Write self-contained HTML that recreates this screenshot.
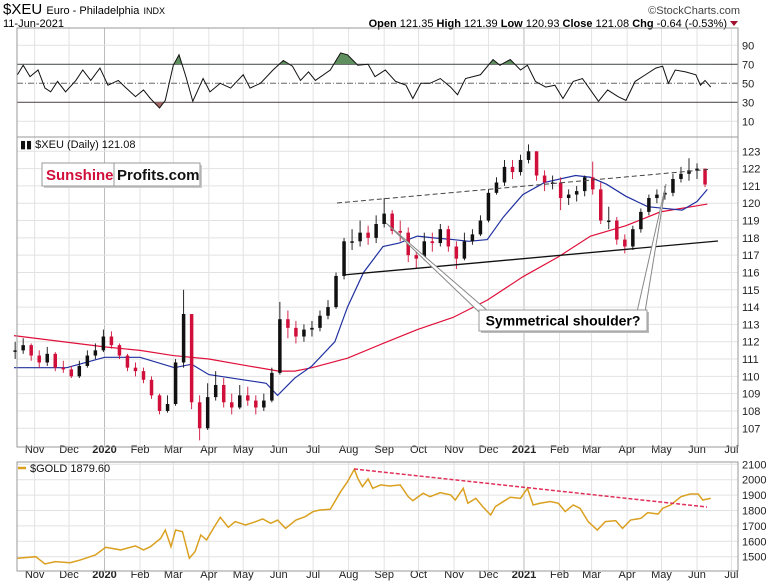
<!DOCTYPE html>
<html><head><meta charset="utf-8"><style>
html,body{margin:0;padding:0;background:#fff;}
svg{display:block;font-family:"Liberation Sans",sans-serif;}
</style></head><body>
<svg id="chart" width="780" height="586" viewBox="0 0 780 586" xmlns="http://www.w3.org/2000/svg">
<g>
<text x="3" y="14" font-size="15">$XEU <tspan font-size="11">Euro - Philadelphia</tspan> <tspan font-size="9">INDX</tspan></text>
<text x="3" y="27" font-size="11">11-Jun-2021</text>
<text x="740" y="14" font-size="11" text-anchor="end" fill="#444">©StockCharts.com</text>
<text x="727" y="27" font-size="11" text-anchor="end"><tspan font-weight="bold">Open</tspan> 121.35 <tspan font-weight="bold">High</tspan> 121.39 <tspan font-weight="bold">Low</tspan> 120.93 <tspan font-weight="bold">Close</tspan> 121.08 <tspan font-weight="bold">Chg</tspan> -0.64 (-0.53%)</text>
<polygon points="730,21 738,21 734,26" fill="#a01030"/>
</g>
<g id="grid"></g>
<g id="rsi"></g>
<g id="main"></g>
<g id="gold"></g>
<g id="axes"></g>
<g id="overlay"></g>
</svg>
<script>
// ---- data ----
const monthDays=[18,48,79,110,139,170,200,231,261,292,323,353,384,414,445,476,504,535,565,596,626];
const monthLabels=["Nov","Dec","2020","Feb","Mar","Apr","May","Jun","Jul","Aug","Sep","Oct","Nov","Dec","2021","Feb","Mar","Apr","May","Jun","Jul"];
const xeuCloses=[111.5,111.8,111.2,110.8,111.3,110.5,110.4,110.0,110.6,111.2,111.5,112.3,111.8,111.2,110.5,110.3,109.8,108.9,108.0,108.4,110.8,113.6,108.5,107.0,108.8,109.5,108.5,108.2,108.9,108.6,108.2,108.6,110.2,113.3,112.8,112.3,112.7,112.8,113.5,114.0,115.8,117.8,117.8,118.3,118.0,118.8,119.4,118.4,118.3,117.0,116.8,117.8,117.7,118.5,117.5,116.8,117.8,118.2,119.0,120.6,121.2,122.1,121.8,122.5,123.0,121.6,121.2,121.2,120.3,120.5,120.7,121.5,120.8,119.0,119.0,117.9,117.5,118.5,119.5,120.3,120.5,120.6,121.4,121.7,121.9,122.0,121.08];
const xeuHighs=[112.0,112.2,111.9,111.5,111.7,111.4,110.9,110.6,110.9,111.5,111.9,112.7,112.6,111.9,111.3,110.8,110.5,110.0,109.0,108.9,111.0,115.0,113.5,108.9,109.6,110.3,109.9,109.0,109.5,109.4,108.9,109.0,110.5,114.3,113.8,113.2,113.0,113.2,113.8,114.4,116.0,118.0,118.5,119.0,118.7,119.3,120.3,119.6,119.0,118.6,117.3,118.3,118.3,118.8,118.7,117.8,118.3,118.5,119.3,120.8,121.5,122.5,122.5,122.8,123.4,123.0,121.9,121.6,121.5,120.8,121.0,121.6,122.4,121.2,119.8,119.2,118.2,118.7,119.7,120.5,120.8,121.0,121.7,122.1,122.6,122.3,121.5];
const xeuLows=[111.0,111.3,110.9,110.5,110.6,110.3,110.2,109.9,109.9,110.5,111.0,111.4,111.6,111.0,110.3,110.0,109.6,108.7,107.8,107.9,108.3,110.5,108.1,106.3,106.9,108.6,108.2,107.8,108.1,108.3,107.8,108.0,108.5,110.1,112.2,111.9,112.0,112.3,112.6,113.3,113.9,115.6,117.3,117.5,117.6,117.7,118.6,118.2,117.8,116.6,116.2,116.7,117.2,117.5,117.2,116.2,116.7,117.6,118.1,118.9,120.5,121.0,121.4,121.6,122.3,121.3,120.7,120.8,119.6,119.9,120.1,120.4,120.5,118.8,118.5,117.6,117.1,117.3,118.3,119.3,120.0,120.2,120.4,121.2,121.3,121.4,120.93];
const ma50Days=[0,46,79,110,140,155,170,200,220,230,245,260,280,291,305,322,336,352,366,383,397,413,427,444,463,490,503,517,534,553,568,583,596,605];
const ma50Vals=[110.5,110.5,111.1,111.1,110.5,110.7,110.1,109.8,109.6,108.9,109.9,110.6,112.0,114.0,116.0,117.5,117.7,118.1,118.0,117.9,117.8,117.9,119.2,120.5,121.2,121.6,121.5,121.1,120.4,119.8,119.7,119.6,120.1,120.8];
const ma200Days=[0,79,110,139,170,200,231,245,260,291,322,352,383,413,444,475,503,534,564,605];
const ma200Vals=[112.35,111.7,111.5,111.2,111.0,110.65,110.3,110.3,110.5,111.05,111.9,112.7,113.4,114.4,115.75,116.9,118.1,118.7,119.5,119.95];
const rsiDays=[3,8,14,21,27,32,38,45,54,60,67,75,82,91,97,106,113,119,127,132,139,144,150,156,165,171,180,189,200,206,215,226,235,243,250,257,263,276,285,291,300,309,315,324,333,342,348,355,363,372,381,387,394,407,418,424,433,442,448,455,464,472,479,488,496,503,510,518,527,534,542,551,560,566,571,577,586,595,599,603,608];
const rsiVals=[59,69,57,64,45,41,52,41,53,64,53,66,48,53,46,36,43,34,24,32,69,80,57,31,55,41,50,45,59,45,50,64,74,68,53,62,53,64,82,80,69,70,57,64,52,48,34,50,50,55,46,38,55,59,75,69,75,64,69,52,46,48,34,52,55,43,31,43,36,32,52,59,66,68,50,64,62,59,48,53,46];
const goldDays=[3,19,27,36,49,58,71,80,93,106,113,119,128,132,137,141,147,153,158,163,168,174,180,187,193,202,211,217,224,230,237,246,254,261,267,276,285,291,297,300,304,309,313,320,328,337,344,348,357,363,372,381,385,392,396,403,409,416,420,427,433,442,448,453,459,468,475,481,488,494,501,509,516,525,531,538,547,553,562,566,573,582,590,597,601,608];
const goldVals=[1490,1500,1453,1468,1461,1479,1511,1561,1544,1570,1544,1565,1619,1673,1565,1673,1663,1490,1533,1641,1609,1684,1756,1691,1728,1706,1728,1745,1717,1738,1684,1738,1760,1793,1803,1808,1922,1987,2068,2009,1955,2005,1944,1966,1959,1966,1890,1864,1912,1890,1916,1901,1868,1944,1847,1879,1825,1771,1825,1858,1886,1879,1944,1836,1847,1858,1847,1793,1836,1814,1728,1673,1728,1734,1684,1738,1749,1786,1777,1814,1836,1890,1907,1907,1868,1879];
const rsiTicks=[90,70,50,30,10];
const xeuTicks=[107,108,109,110,111,112,113,114,115,116,117,118,119,120,121,122,123];
const goldTicks=[2100,2000,1900,1800,1700,1600,1500];

// ---- scales ----
const X=d=>14+d*1.146;
const YR=v=>64.3+(70-v)*0.95;
const YM=v=>151.3+(123-v)*17.31;
const YG=v=>464.3+(2100-v)*0.154;
const NS="http://www.w3.org/2000/svg";
function mk(tag,attrs,parent){const e=document.createElementNS(NS,tag);for(const k in attrs)e.setAttribute(k,attrs[k]);parent.appendChild(e);return e;}
const grid=document.getElementById('grid'),rsiG=document.getElementById('rsi'),mainG=document.getElementById('main'),goldG=document.getElementById('gold'),axes=document.getElementById('axes'),ov=document.getElementById('overlay');
const L=17,R=738;
const panels=[[28,137],[137,447],[462,571]];

monthDays.forEach((d,i)=>{
  const yr=monthLabels[i].length===4;
  panels.forEach(p=>{
    const ln=mk('line',{x1:X(d),x2:X(d),y1:p[0],y2:p[1],stroke:yr?'#bbb':'#e2e2e2','stroke-width':1},grid);
    
    
  });
  [453,578].forEach(y=>{
    const t=mk('text',{x:X(d),y:y,'font-size':11,'text-anchor':'middle','font-weight':yr?'bold':'normal',fill:'#222'},axes);
    t.textContent=monthLabels[i];
    
    
  });
});
xeuTicks.forEach(v=>{
  const ln=mk('line',{x1:L,x2:R,y1:YM(v),y2:YM(v),stroke:'#e2e2e2'},grid);
  
  
  const t=mk('text',{x:742,y:YM(v)+4,'font-size':11,fill:'#222'},axes);
  t.textContent=v;
  
  
});
goldTicks.forEach(v=>{
  const ln=mk('line',{x1:L,x2:R,y1:YG(v),y2:YG(v),stroke:'#e2e2e2'},grid);
  
  
  const t=mk('text',{x:742,y:YG(v)+4,'font-size':11,fill:'#222'},axes);
  t.textContent=v;
  
  
});
rsiTicks.forEach(v=>{
  const dark=(v===70||v===30), mid=v===50;
  const ln=mk('line',{x1:L,x2:R,y1:YR(v),y2:YR(v),stroke:dark?'#555':(mid?'#666':'#e2e2e2'),'stroke-width':dark?1.2:1},grid);
  if(mid)ln.setAttribute('stroke-dasharray','6,2,1,2');
  
  
  const t=mk('text',{x:742,y:YR(v)+4,'font-size':11,fill:'#222'},axes);
  t.textContent=v;
  
  
});
panels.forEach(p=>{
  const r=mk('rect',{x:L,y:p[0],width:R-L,height:p[1]-p[0],fill:'none',stroke:'#999'},axes);
  
  
});

// RSI
const rsiPts=rsiDays.map((d,i)=>X(d)+','+YR(rsiVals[i])).join(' ');
const defs=mk('defs',{},rsiG);
const c1=mk('clipPath',{id:'above70'},defs);mk('rect',{x:0,y:0,width:780,height:YR(70)},c1);
const c2=mk('clipPath',{id:'below30'},defs);mk('rect',{x:0,y:YR(30),width:780,height:40},c2);
const fa=mk('polygon',{points:X(rsiDays[0])+','+YR(70)+' '+rsiPts+' '+X(rsiDays[rsiDays.length-1])+','+YR(70),fill:'#5f8f5f','clip-path':'url(#above70)'},rsiG);


const fb=mk('polygon',{points:X(rsiDays[0])+','+YR(30)+' '+rsiPts+' '+X(rsiDays[rsiDays.length-1])+','+YR(30),fill:'#a86a6a','clip-path':'url(#below30)'},rsiG);


const rl=mk('polyline',{points:rsiPts,fill:'none',stroke:'#111','stroke-width':1},rsiG);



// MAs
const m200=mk('polyline',{points:ma200Days.map((d,i)=>X(d)+','+YM(ma200Vals[i])).join(' '),fill:'none',stroke:'#e0103a','stroke-width':1.2},mainG);


const m50=mk('polyline',{points:ma50Days.map((d,i)=>X(d)+','+YM(ma50Vals[i])).join(' '),fill:'none',stroke:'#2030a0','stroke-width':1.2},mainG);


// bars
xeuCloses.forEach((c,i)=>{
  const d=i*7+1, o=i?xeuCloses[i-1]:c, up=c>=o;
  const col=up?'#111':'#d0103a';
  const x=X(d);
  const w=mk('line',{x1:x,x2:x,y1:YM(xeuHighs[i]),y2:YM(xeuLows[i]),stroke:col,'stroke-width':0.9},mainG);
  
  
  const top=YM(Math.max(o,c)),bot=YM(Math.min(o,c));
  const b=mk('rect',{x:x-1.75,y:top,width:3.5,height:Math.max(bot-top,1.5),fill:col},mainG);
  
  
});

// gold
const gl=mk('polyline',{points:goldDays.map((d,i)=>X(d)+','+YG(goldVals[i])).join(' '),fill:'none',stroke:'#daa020','stroke-width':1.5},goldG);



ov.innerHTML=`
<line x1="337" y1="203" x2="708" y2="169.5" stroke="#444" stroke-dasharray="5,3"/>
<line x1="343" y1="275" x2="718" y2="241" stroke="#111" stroke-width="1.3"/>
<line x1="354" y1="469" x2="707" y2="507" stroke="#e0305a" stroke-width="1.5" stroke-dasharray="4,2"/>
<polygon points="386,223 479,312 489,312" fill="#fff" stroke="#888"/>
<polygon points="666,184 637,312 645,312" fill="#fff" stroke="#888"/>
<rect x="481" y="312" width="168" height="21" fill="#bbb"/>
<rect x="479" y="310" width="168" height="21" fill="#fff" stroke="#999"/>
<text x="563" y="325.5" font-size="14" font-weight="bold" text-anchor="middle">Symmetrical shoulder?</text>
<rect x="44" y="165" width="158" height="23" fill="#ccc"/>
<rect x="42" y="163" width="158" height="23" fill="#fff" stroke="#999"/>
<line x1="114" y1="163" x2="114" y2="186" stroke="#999"/>
<text x="46" y="180" font-size="15" font-weight="bold" fill="#d0103a">Sunshine</text>
<text x="117" y="180" font-size="15" font-weight="bold" fill="#111">Profits.com</text>
<text x="20" y="148" font-size="11" fill="#111">▮▮ $XEU (Daily) 121.08</text>
<line x1="18" y1="468" x2="26" y2="468" stroke="#daa020" stroke-width="2.5"/>
<text x="30" y="472" font-size="11" fill="#111">$GOLD 1879.60</text>`;
</script>
</body></html>
